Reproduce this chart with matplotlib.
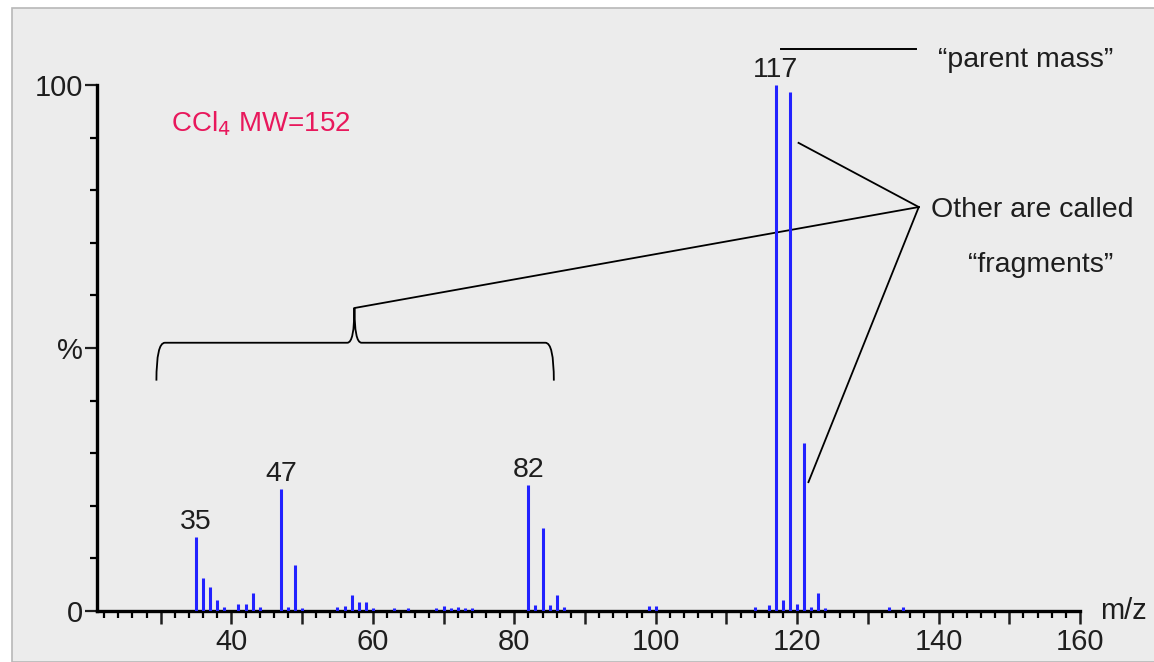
import numpy as np
import matplotlib
matplotlib.use('Agg')
import matplotlib.pyplot as plt
from matplotlib.patches import Rectangle, PathPatch
from matplotlib.path import Path

plt.rcParams['font.family'] = ['Liberation Sans', 'DejaVu Sans']

# spectrum of CCl4 (m/z, relative intensity %)
mz = [35, 36, 37, 38, 39, 41, 42, 43, 44, 47, 48, 49, 50,
      55, 56, 57, 58, 59, 60, 63, 65, 69, 70, 71, 72, 73, 74,
      82, 83, 84, 85, 86, 87, 99, 100,
      114, 116, 117, 118, 119, 120, 121, 122, 123, 124, 133, 135]
intensity = [14.0, 6.3, 4.6, 2.1, 0.8, 1.3, 1.3, 3.4, 0.8, 23.2, 0.8, 8.7, 0.5,
             0.8, 1.0, 3.0, 1.8, 1.8, 0.6, 0.5, 0.5, 0.6, 1.0, 0.6, 0.8, 0.6, 0.5,
             24.0, 1.1, 15.8, 1.1, 3.0, 0.8, 0.9, 0.9,
             0.8, 1.1, 100.0, 2.0, 98.6, 1.4, 31.9, 0.8, 3.4, 0.5, 0.7, 0.7]
labelled = [35, 47, 82, 117]

W, H = 1154, 662
fig = plt.figure(figsize=(W / 100, H / 100), dpi=100, facecolor='white')
bg = Rectangle((12 / W, 0), 1, (H - 8) / H, transform=fig.transFigure,
               facecolor='#ececec', edgecolor='#b8b8b8', lw=1.2, zorder=-5)
fig.add_artist(bg)

ax = fig.add_axes([97 / W, 1 - 611 / H, (1080 - 97) / W, (611 - 85) / H])
ax.set_zorder(2)
ax.set_facecolor('none')
ax.set_xlim(21, 160)
ax.set_ylim(0, 100)

ax.vlines(mz, 0, intensity, color='#2222ff', lw=2.2, zorder=3)

txt = '#1e1e1e'
for m in labelled:
    h = intensity[mz.index(m)]
    ax.annotate(str(m), (m, h), xytext=(0, 1.5), textcoords='offset points',
                ha='center', va='bottom', fontsize=20.5, color=txt,
                annotation_clip=False)

# axes styling
for s in ['top', 'right']:
    ax.spines[s].set_visible(False)
ax.spines['left'].set_linewidth(2.4)
ax.spines['bottom'].set_linewidth(2.4)
ax.spines['left'].set_bounds(0, 100)

ax.set_xticks(np.arange(30, 161, 10))
ax.set_xticklabels([str(v) if v % 20 == 0 else '' for v in range(30, 161, 10)])
ax.set_xticks(np.arange(22, 161, 2), minor=True)
ax.tick_params(axis='x', which='major', length=9, width=1.8, labelsize=21, pad=3, colors=txt)
ax.tick_params(axis='x', which='minor', length=5, width=1.6)

ax.set_yticks([0, 50, 100])
ax.set_yticklabels(['0', '%', '100'])
ax.set_yticks(np.arange(0, 101, 10), minor=True)
ax.tick_params(axis='y', which='major', length=9, width=1.6, labelsize=21, pad=1, colors=txt)
ax.tick_params(axis='y', which='minor', length=5, width=1.6)

ax.text(162.8, 0, 'm/z', fontsize=21, ha='left', va='center', color=txt, clip_on=False)

# compound label
ax.text(31.5, 92.6, 'CCl$_4$ MW=152', fontsize=20, color='#e8185c', ha='left', va='center')

# parent mass
ax.plot([117.7, 136.8], [106.8, 106.8], color='black', lw=1.4, clip_on=False)
ax.text(139.9, 104.8, '\u201cparent mass\u201d', fontsize=20.5, ha='left', va='center',
        color=txt, clip_on=False)

# fragments
ax.text(138.9, 76.2, 'Other are called', fontsize=20.5, ha='left', va='center', color=txt)
ax.text(154.4, 65.8, '\u201cfragments\u201d', fontsize=20.5, ha='center', va='center', color=txt)
hub = (137.2, 76.8)
for tx, ty in [(120.2, 89.0), (121.6, 24.5), (57.4, 57.6)]:
    ax.plot([hub[0], tx], [hub[1], ty], color='black', lw=1.3)

# brace under the low-mass fragments
bl, br, tip, ymid, ybot, ytop = 29.4, 85.6, 57.4, 51.0, 43.8, 57.6
verts = [(bl, ybot), (bl, ymid), (bl + 1.2, ymid),
         (tip - 1.0, ymid), (tip, ymid), (tip, ytop),
         (tip, ymid), (tip + 1.0, ymid),
         (br - 1.2, ymid), (br, ymid), (br, ybot)]
codes = [Path.MOVETO, Path.CURVE3, Path.CURVE3,
         Path.LINETO, Path.CURVE3, Path.CURVE3,
         Path.CURVE3, Path.CURVE3,
         Path.LINETO, Path.CURVE3, Path.CURVE3]
ax.add_patch(PathPatch(Path(verts, codes), facecolor='none', edgecolor='black', lw=1.3))

fig.savefig('out.png', dpi=100)
